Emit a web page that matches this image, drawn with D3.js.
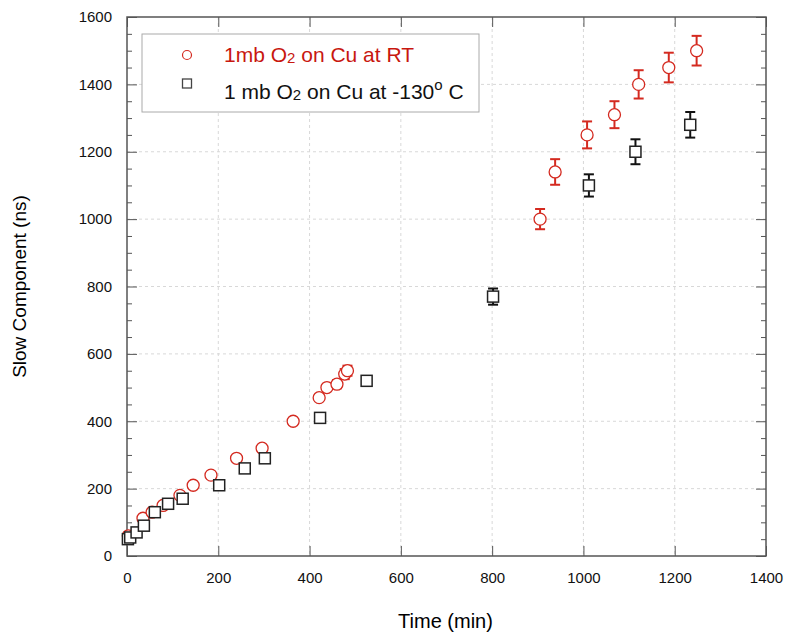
<!DOCTYPE html>
<html><head><meta charset="utf-8">
<script src="https://cdn.jsdelivr.net/npm/d3@7"></script>
<style>body{margin:0;background:#fff}svg{display:block}text{font-family:"Liberation Sans",Arial,Helvetica,sans-serif}</style>
</head><body>
<svg id="c" width="787" height="633"></svg>
<script>
// Data
const rtTime = [3, 35, 55, 79, 116, 145, 184, 240, 296, 364, 421, 438, 460, 477, 483, 905, 938, 1008, 1068, 1121, 1187, 1248];
const rtSlow = [60, 112, 130, 150, 180, 210, 240, 290, 320, 400, 470, 500, 510, 540, 550, 1000, 1140, 1250, 1310, 1400, 1450, 1500];
const rtErr  = [0, 0, 0, 0, 0, 0, 0, 0, 0, 0, 0, 0, 12, 15, 15, 30, 38, 40, 40, 42, 44, 44];
const lowTime = [2, 7, 21, 37, 61, 90, 122, 202, 258, 302, 423, 525, 802, 1012, 1114, 1234];
const lowSlow = [50, 55, 70, 90, 130, 155, 170, 210, 260, 290, 410, 520, 770, 1100, 1200, 1280];
const lowErr  = [0, 0, 0, 0, 0, 0, 0, 0, 0, 0, 0, 8, 24, 33, 37, 38];
const xTicks = [0, 200, 400, 600, 800, 1000, 1200, 1400];
const yTicks = [0, 200, 400, 600, 800, 1000, 1200, 1400, 1600];
const yMinor = d3.range(0, 1601, 50);

const red = "#d42a20";
const svg = d3.select("#c");
const L = 127, R = 766, T = 17, B = 556;
const x = d3.scaleLinear().domain([0, 1400]).range([L, R]);
const y = d3.scaleLinear().domain([0, 1600]).range([B, T]);

// grid
const g = svg.append("g");
g.selectAll(".gx").data(xTicks.slice(1, -1)).join("line")
  .attr("x1", d => x(d)).attr("x2", d => x(d)).attr("y1", T).attr("y2", B)
  .attr("stroke", "#d8d8d8").attr("stroke-dasharray", "3,3");
g.selectAll(".gy").data(yTicks.slice(1, -1)).join("line")
  .attr("y1", d => y(d)).attr("y2", d => y(d)).attr("x1", L).attr("x2", R)
  .attr("stroke", "#d8d8d8").attr("stroke-dasharray", "3,3");

// axes with inward ticks
const axB = svg.append("g").attr("transform", `translate(0,${B})`)
  .call(d3.axisBottom(x).tickValues(xTicks).tickSize(-10).tickPadding(16).tickFormat(d3.format("d")));
const axT = svg.append("g").attr("transform", `translate(0,${T})`)
  .call(d3.axisTop(x).tickValues(xTicks).tickSize(-10).tickFormat(""));
const axL = svg.append("g").attr("transform", `translate(${L},0)`)
  .call(d3.axisLeft(y).tickValues(yMinor).tickSize(-5).tickPadding(15)
    .tickFormat(d => d % 200 === 0 ? d : ""));
const axR = svg.append("g").attr("transform", `translate(${R},0)`)
  .call(d3.axisRight(y).tickValues(yMinor).tickSize(-5).tickFormat(""));
[axL, axR].forEach(a => a.selectAll(".tick line").filter(d => d % 200 === 0).attr("x2", a === axL ? 10 : -10));
[axB, axT, axL, axR].forEach(a => {
  a.select(".domain").remove();
  a.selectAll(".tick line").attr("stroke", "#555");
  a.selectAll("text").attr("font-size", 15).attr("fill", "#111")
    .style("font-family", "'Liberation Sans', Arial, sans-serif");
});
svg.append("rect").attr("x", L).attr("y", T).attr("width", R - L).attr("height", B - T)
  .attr("fill", "none").attr("stroke", "#555").attr("stroke-width", 1.5);

// axis titles
svg.append("text").attr("x", (L + R) / 2 - 1).attr("y", 628).attr("text-anchor", "middle")
  .attr("font-size", 20).text("Time (min)");
svg.append("text").attr("transform", `translate(26,${(T + B) / 2}) rotate(-90)`)
  .attr("text-anchor", "middle").attr("font-size", 19).text("Slow Component (ns)");

// error bars
function errBars(tx, ty, te, col) {
  const data = tx.map((t, i) => ({t, v: ty[i], e: te[i]})).filter(d => d.e > 0);
  const eg = svg.append("g").attr("stroke", col).attr("stroke-width", 2);
  data.forEach(d => {
    const cx = x(d.t);
    eg.append("line").attr("x1", cx).attr("x2", cx).attr("y1", y(d.v + d.e)).attr("y2", y(d.v - d.e));
    [d.v + d.e, d.v - d.e].forEach(v => eg.append("line")
      .attr("x1", cx - 5).attr("x2", cx + 5).attr("y1", y(v)).attr("y2", y(v)));
  });
}
errBars(rtTime, rtSlow, rtErr, red);
errBars(lowTime, lowSlow, lowErr, "#111");

// circles
svg.append("g").selectAll("circle").data(rtTime.map((t, i) => [t, rtSlow[i]])).join("circle")
  .attr("cx", d => x(d[0])).attr("cy", d => y(d[1])).attr("r", 6)
  .attr("fill", "#fff").attr("stroke", red).attr("stroke-width", 1.3);
// squares
svg.append("g").selectAll("rect").data(lowTime.map((t, i) => [t, lowSlow[i]])).join("rect")
  .attr("x", d => x(d[0]) - 5.5).attr("y", d => y(d[1]) - 5.5).attr("width", 11).attr("height", 11)
  .attr("fill", "#fff").attr("stroke", "#222").attr("stroke-width", 1.5);

// legend
const lg = svg.append("g");
lg.append("rect").attr("x", 142).attr("y", 34).attr("width", 337).attr("height", 78)
  .attr("fill", "#fff").attr("stroke", "#aaa").attr("stroke-width", 1);
lg.append("circle").attr("cx", 187).attr("cy", 55).attr("r", 4.5)
  .attr("fill", "none").attr("stroke", red).attr("stroke-width", 1.2);
lg.append("rect").attr("x", 182.5).attr("y", 79).attr("width", 9).attr("height", 9)
  .attr("fill", "#fff").attr("stroke", "#444").attr("stroke-width", 1.3);
const t1 = lg.append("text").attr("x", 224).attr("y", 62).attr("font-size", 21).attr("fill", "#c8170f");
t1.append("tspan").text("1mb O");
t1.append("tspan").attr("font-size", 15).attr("dy", 1).text("2");
t1.append("tspan").attr("dy", -1).text(" on Cu at RT");
const t2 = lg.append("text").attr("x", 224).attr("y", 99).attr("font-size", 21).attr("fill", "#111");
t2.append("tspan").text("1 mb O");
t2.append("tspan").attr("font-size", 15).attr("dy", 1).text("2");
t2.append("tspan").attr("dy", -1).text(" on Cu at -130");
t2.append("tspan").attr("font-size", 15).attr("dy", -9).text("o");
t2.append("tspan").attr("dy", 9).text(" C");
</script>
</body></html>
